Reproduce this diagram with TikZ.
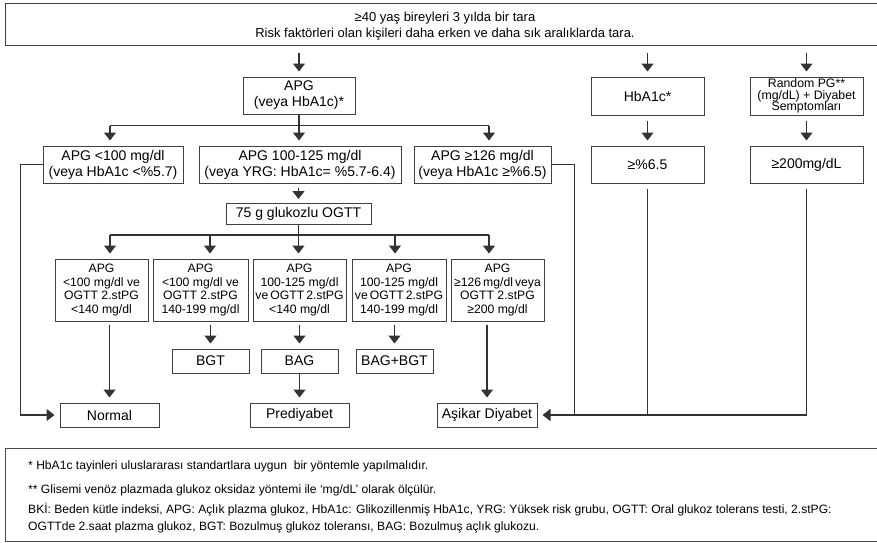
\documentclass[tikz,border=0pt]{standalone}
\usepackage{fontspec}
\setmainfont{Liberation Sans}
\usetikzlibrary{arrows.meta}
\tikzset{
	box/.style={draw=black!75, line width=1pt, align=center, inner sep=1pt, font=\fontsize{14}{16}\selectfont},
	testbox/.style={box, font=\fontsize{12.2}{13.4}\selectfont},
	ln/.style={line width=1.2pt, color=black!80},
	arr/.style={ln, -{Triangle[width=12pt,length=8pt]}, shorten >=5pt},
	note/.style={anchor=base west, inner sep=0pt, font=\fontsize{12.1}{13}\selectfont}
}

\begin{document}
\begin{tikzpicture}[x=1pt, y=-1pt]
			%%%%% START %%%%%
			\useasboundingbox (0,0) rectangle (877,542);
			
			\node[box, minimum width=880pt, minimum height=42pt] (screen) at (445,24) {};
			\node[align=center, inner sep=0pt, font=\fontsize{13}{16.5}\selectfont] (screentext) at (445,26) {≥40 yaş bireyleri 3 yılda bir tara\\Risk faktörleri olan kişileri daha erken ve daha sık aralıklarda tara.};
			
			\node[box, minimum width=112pt, minimum height=37pt] (apg) at (299,95.5) {APG\\(veya HbA1c)*};
			\node[box, minimum width=113pt, minimum height=38pt] (hba) at (647.5,96) {HbA1c*};
			\node[box, minimum width=113pt, minimum height=38pt, font=\fontsize{12.3}{11.6}\selectfont] (rpg) at (806.5,96) {Random PG**\\(mg/dL) + Diyabet\\Semptomları};
			
			\draw[arr, shorten <=7pt] (screen.south -| apg.north) -- (apg.north);
			\draw[arr, shorten <=7pt] (screen.south -| hba.north) -- (hba.north);
			\draw[arr, shorten <=7pt] (screen.south -| rpg.north) -- (rpg.north);
			
			\node[box, minimum width=140pt, minimum height=37pt] (low) at (113,164.5) {APG <100 mg/dl\\(veya HbA1c <\%5.7)};
			\node[box, minimum width=202pt, minimum height=37pt] (mid) at (300,164.5) {APG 100-125 mg/dl\\(veya YRG: HbA1c= \%5.7-6.4)};
			\node[box, minimum width=137pt, minimum height=37pt] (high) at (482.5,164.5) {APG ≥126 mg/dl\\(veya HbA1c ≥\%6.5)};
			\node[box, minimum width=113pt, minimum height=37pt] (hbres) at (647.5,164.5) {≥\%6.5};
			\node[box, minimum width=113pt, minimum height=37pt] (rpgres) at (806.5,164.5) {≥200mg/dL};
			
			\draw[ln] (apg.south) -- ++(0,11) coordinate (fork);
			\coordinate (fl) at (110,125.5);
			\coordinate (fr) at (489,125.5);
			\draw[ln] (fl) -- (fr);
			\draw[arr] (fl) -- (fl |- low.north);
			\draw[arr] (fork) -- (fork |- mid.north);
			\draw[arr] (fr) -- (fr |- high.north);
			\draw[arr, shorten <=5pt] (hba.south) -- (hbres.north);
			\draw[arr, shorten <=5pt] (rpg.south) -- (rpgres.north);
			
			\node[box, minimum width=145pt, minimum height=21pt] (ogtt) at (298.5,214) {75 g glukozlu OGTT};
			\draw[arr, shorten <=4pt, shorten >=4pt] (mid.south -| ogtt.north) -- (ogtt.north);
			
			\node[testbox, minimum width=93pt, minimum height=62pt] (t1) at (101.5,290) {APG\\<100 mg/dl ve\\OGTT 2.stPG\\<140 mg/dl};
			\node[testbox, minimum width=95pt, minimum height=62pt] (t2) at (200.5,290) {APG\\<100 mg/dl ve\\OGTT 2.stPG\\140-199 mg/dl};
			\node[testbox, minimum width=93pt, minimum height=62pt] (t3) at (299.5,290) {APG\\100-125 mg/dl\\ve\,OGTT\,2.stPG\\<140 mg/dl};
			\node[testbox, minimum width=94pt, minimum height=62pt] (t4) at (399,290) {APG\\100-125 mg/dl\\ve\,OGTT\,2.stPG\\140-199 mg/dl};
			\node[testbox, minimum width=93pt, minimum height=62pt] (t5) at (497.5,290) {APG\\≥126\,mg/dl\,veya\\OGTT 2.stPG\\≥200 mg/dl};
			
			\draw[ln] (ogtt.south) -- ++(0,11) coordinate (gfork);
			\coordinate (g1) at (110,235);
			\coordinate (g2) at (210,235);
			\coordinate (g4) at (395,235);
			\coordinate (g5) at (489,235);
			\draw[ln] (g1) -- (g5);
			\draw[arr] (g1) -- (g1 |- t1.north);
			\draw[arr] (g2) -- (g2 |- t2.north);
			\draw[arr] (gfork) -- (gfork |- t3.north);
			\draw[arr] (g4) -- (g4 |- t4.north);
			\draw[arr] (g5) -- (g5 |- t5.north);
			
			\node[box, minimum width=77pt, minimum height=24pt] (bgt) at (210.5,361) {BGT};
			\node[box, minimum width=77pt, minimum height=24pt] (bag) at (299.5,361) {BAG};
			\node[box, minimum width=77pt, minimum height=24pt] (bagbgt) at (394.5,361) {BAG+BGT};
			
			\node[box, minimum width=99pt, minimum height=24pt] (normal) at (109.5,415) {Normal};
			\node[box, minimum width=99pt, minimum height=24pt] (pre) at (299.5,415) {Prediyabet};
			\node[box, minimum width=100pt, minimum height=24pt] (asikar) at (487,415) {Aşikar Diyabet};
			
			\draw[arr, shorten <=3pt] (normal.north |- t1.south) -- (normal.north);
			\draw[arr, shorten <=3pt] (bgt.north |- t2.south) -- (bgt.north);
			\draw[arr, shorten <=3pt] (bag.north |- t3.south) -- (bag.north);
			\draw[arr, shorten <=3pt] (bagbgt.north |- t4.south) -- (bagbgt.north);
			\draw[arr, shorten <=3pt] (asikar.north |- t5.south) -- (asikar.north);
			\draw[arr] (bag.south) -- (pre.north);
			
			\draw[arr] (low.west) -- ++(-22,0) |- (normal.west);
			\draw[arr] (high.east) -- ++(23,0) coordinate (hk) |- (asikar.east);
			\draw[ln, shorten <=5pt] (hbres.south) -- (hbres.south |- asikar.east);
			\draw[ln, shorten <=5pt] (rpgres.south) |- (hk |- asikar.east);
			
			\node[draw=black!70, line width=1pt, anchor=north west, minimum width=880pt, minimum height=93pt] (notes) at (5,448) {};
			\node[note] (n1) at (28,469) {* HbA1c tayinleri uluslararası standartlara uygun\ \ bir yöntemle yapılmalıdır.};
			\node[note] (n2) at (28,493) {** Glisemi venöz plazmada glukoz oksidaz yöntemi ile ‘mg/dL’ olarak ölçülür.};
			\node[note] (n3) at (28,513) {BKİ: Beden kütle indeksi, APG: Açlık plazma glukoz, HbA1c: Glikozillenmiş HbA1c, YRG: Yüksek risk grubu, OGTT: Oral glukoz tolerans testi, 2.stPG:};
			\node[note] (n4) at (28,530) {OGTTde 2.saat plazma glukoz, BGT: Bozulmuş glukoz toleransı, BAG: Bozulmuş açlık glukozu.};
			
			%%%%% END %%%%%
\end{tikzpicture}
\end{document}
